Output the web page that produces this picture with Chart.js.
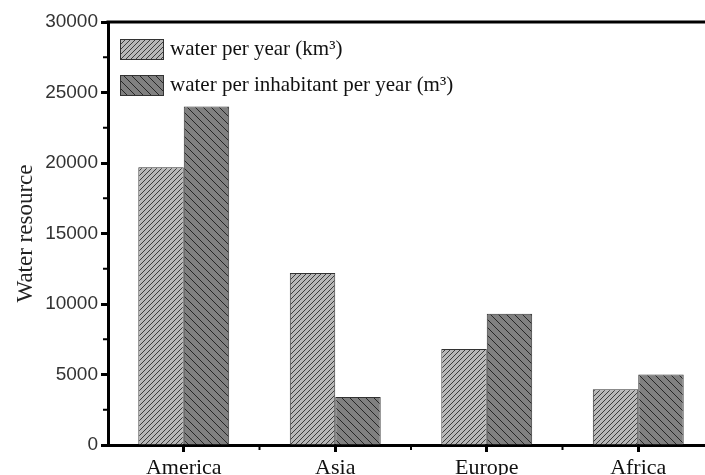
<!DOCTYPE html>
<html>
<head>
<meta charset="utf-8">
<script src="https://cdn.jsdelivr.net/npm/chart.js@4/dist/chart.umd.min.js"></script>
<style>
  html, body { margin: 0; padding: 0; background: #fff; overflow: hidden; }
  #wrap { width: 714px; height: 475px; }
</style>
</head>
<body>
<div id="wrap"><canvas id="chart" width="714" height="475"></canvas></div>
<script>
// data
const continents = ['America', 'Asia', 'Europe', 'Africa'];
const waterPerYear = [19700, 12200, 6800, 3950];          // km3
const waterPerInhabitant = [24000, 3400, 9300, 5000];     // m3
const yTicks = [0, 5000, 10000, 15000, 20000, 25000, 30000];

const serif = '"Liberation Serif", "DejaVu Serif", serif';
const sans = '"Liberation Sans", Arial, sans-serif';

// hatch patterns
function hatch(size, bg, line, dir) {
    const c = document.createElement('canvas');
    c.width = size; c.height = size;
    const g = c.getContext('2d');
    g.fillStyle = bg;
    g.fillRect(0, 0, size, size);
    g.strokeStyle = line;
    g.lineWidth = 1;
    g.beginPath();
    if (dir === '/') {
        g.moveTo(-1, size + 1); g.lineTo(size + 1, -1);
        g.moveTo(-1, 1); g.lineTo(1, -1);
        g.moveTo(size - 1, size + 1); g.lineTo(size + 1, size - 1);
    } else {
        g.moveTo(-1, -1); g.lineTo(size + 1, size + 1);
        g.moveTo(size - 1, -1); g.lineTo(size + 1, 1);
        g.moveTo(-1, size - 1); g.lineTo(1, size + 1);
    }
    g.stroke();
    return g.createPattern(c, 'repeat');
}
const lightHatch = hatch(5, '#b8b8b8', '#3c3c3c', '/');
const darkHatch = hatch(8, '#808080', '#262626', '\\');

// legend inside plot, top border, minor ticks
const extras = {
    id: 'extras',
    afterDraw(chart) {
        const ctx = chart.ctx;
        const a = chart.chartArea;
        const x = chart.scales.x, y = chart.scales.y;
        ctx.save();
        // top frame line
        ctx.strokeStyle = '#000';
        ctx.lineWidth = 3;
        ctx.beginPath();
        ctx.moveTo(a.left - 1.5, a.top);
        ctx.lineTo(chart.width, a.top);
        ctx.stroke();
        // minor ticks
        ctx.lineWidth = 2;
        ctx.beginPath();
        for (let v = 2500; v < 30000; v += 5000) {
            const py = y.getPixelForValue(v);
            ctx.moveTo(a.left - 1, py); ctx.lineTo(a.left - 5, py);
        }
        for (let i = 0; i < continents.length - 1; i++) {
            const px = (x.getPixelForValue(i) + x.getPixelForValue(i + 1)) / 2;
            ctx.moveTo(px, a.bottom + 1); ctx.lineTo(px, a.bottom + 5);
        }
        ctx.stroke();
        // legend
        ctx.font = '21px ' + serif;
        ctx.textBaseline = 'middle';
        chart.data.datasets.forEach((ds, i) => {
            const bx = a.left + 12, by = a.top + 17 + i * 36;
            ctx.fillStyle = ds.backgroundColor;
            ctx.fillRect(bx, by, 43, 20);
            ctx.strokeStyle = '#333';
            ctx.lineWidth = 1;
            ctx.strokeRect(bx + 0.5, by + 0.5, 43, 20);
            ctx.fillStyle = '#111';
            ctx.fillText(ds.label, bx + 50, by + 10);
        });
        ctx.restore();
    }
};

new Chart(document.getElementById('chart'), {
    type: 'bar',
    data: {
        labels: continents,
        datasets: [
            {
                label: 'water per year (km³)',
                data: waterPerYear,
                backgroundColor: lightHatch,
                borderColor: '#333',
                borderWidth: 1
            },
            {
                label: 'water per inhabitant per year (m³)',
                data: waterPerInhabitant,
                backgroundColor: darkHatch,
                borderColor: '#333',
                borderWidth: 1
            }
        ]
    },
    options: {
        responsive: false,
        animation: false,
        layout: { padding: { top: 22, right: 0 } },
        datasets: { bar: { categoryPercentage: 0.6, barPercentage: 1 } },
        plugins: { legend: { display: false }, tooltip: { enabled: false } },
        scales: {
            x: {
                grid: { display: true, offset: false, drawOnChartArea: false, tickLength: 7, tickWidth: 3, tickColor: '#000' },
                border: { display: true, color: '#000', width: 3 },
                ticks: { color: '#111', font: { family: serif, size: 22 }, padding: 3 },
                afterFit(s) { s.height = 30; }
            },
            y: {
                min: 0,
                max: 30000,
                afterBuildTicks(s) { s.ticks = yTicks.map(v => ({ value: v })); },
                grid: { display: true, drawOnChartArea: false, tickLength: 7, tickWidth: 3, tickColor: '#000' },
                border: { display: true, color: '#000', width: 3 },
                ticks: { color: '#333', font: { family: sans, size: 19 }, padding: 3, callback: v => String(v) },
                title: { display: true, text: 'Water resource', color: '#222', font: { family: serif, size: 23 }, padding: { top: 12, bottom: 0 } },
                afterFit(s) { s.width = 108; }
            }
        }
    },
    plugins: [extras]
});
</script>
</body>
</html>
